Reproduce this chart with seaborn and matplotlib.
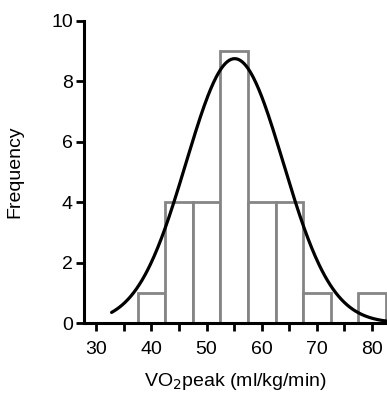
import numpy as np
import pandas as pd
import seaborn as sns
import matplotlib
matplotlib.use("Agg")
import matplotlib.pyplot as plt

# histogram counts (bin width 5)
bin_centers = [40, 45, 50, 55, 60, 65, 70, 75, 80]
counts = [1, 4, 4, 9, 4, 4, 1, 0, 1]

# fitted gaussian
fit_amp = 8.75
fit_mean = 55.1
fit_sd = 8.8
fit_start, fit_end = 32.8, 83.0

x_ticks = [30, 35, 40, 45, 50, 55, 60, 65, 70, 75, 80]
x_labels = ["30", "", "40", "", "50", "", "60", "", "70", "", "80"]
y_ticks = [0, 2, 4, 6, 8, 10]

sns.set_style("ticks")
plt.rcParams["font.family"] = ["Liberation Sans", "DejaVu Sans"]
plt.rcParams["text.color"] = "black"
plt.rcParams["axes.labelcolor"] = "black"
plt.rcParams["xtick.color"] = "black"
plt.rcParams["ytick.color"] = "black"

df = pd.DataFrame({"vo2": bin_centers, "n": counts})

fig = plt.figure(figsize=(3.87, 3.94), dpi=100)
ax = fig.add_axes([0.217, 0.18, 0.783, 0.767])

sns.histplot(data=df, x="vo2", weights="n", binwidth=5, binrange=(37.5, 82.5),
             color="white", edgecolor="#858585", linewidth=2.0, alpha=1, ax=ax)

xs = np.linspace(fit_start, fit_end, 300)
ys = fit_amp * np.exp(-0.5 * ((xs - fit_mean) / fit_sd) ** 2)
sns.lineplot(x=xs, y=ys, color="black", linewidth=2.3, ax=ax)

ax.set_xlim(27.8, 82.7)
ax.set_ylim(0, 10)
ax.set_xticks(x_ticks)
ax.set_xticklabels(x_labels)
ax.set_yticks(y_ticks)
ax.tick_params(axis="both", labelsize=14, width=2, length=6,
               color="black", labelcolor="black")
ax.tick_params(axis="x", pad=7)
ax.tick_params(axis="y", pad=2)
for s in ["left", "bottom"]:
    ax.spines[s].set_linewidth(2.2)
    ax.spines[s].set_color("black")
    ax.spines[s].set_zorder(5)
sns.despine(ax=ax)

ax.set_xlabel("VO$_2$peak (ml/kg/min)", fontsize=14, labelpad=9)
ax.set_ylabel("Frequency", fontsize=14, labelpad=20)

fig.savefig("out.png", dpi=100)
